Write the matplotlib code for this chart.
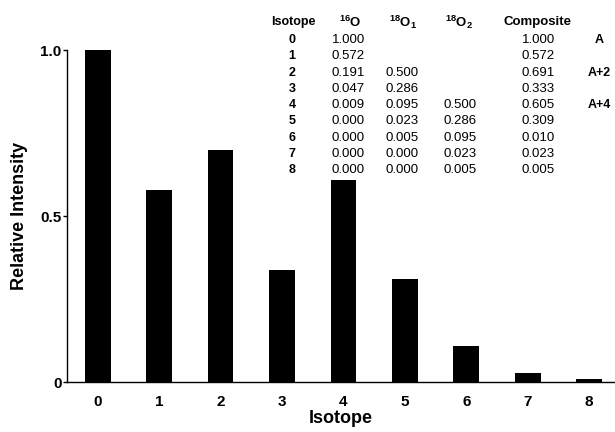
import matplotlib
matplotlib.use("Agg")
import matplotlib.pyplot as plt
import numpy as np

plt.rcParams["font.family"] = ["Liberation Sans", "DejaVu Sans"]
plt.rcParams["mathtext.fontset"] = "custom"
plt.rcParams["mathtext.rm"] = "Liberation Sans"
plt.rcParams["mathtext.default"] = "regular"

# bar data
isotopes = [0, 1, 2, 3, 4, 5, 6, 7, 8]
intensity = [1.0, 0.578, 0.698, 0.337, 0.608, 0.31, 0.108, 0.027, 0.008]

# inset table
tbl_isotope = ["0", "1", "2", "3", "4", "5", "6", "7", "8"]
tbl_o16 = ["1.000", "0.572", "0.191", "0.047", "0.009", "0.000", "0.000", "0.000", "0.000"]
tbl_o18_1 = ["", "", "0.500", "0.286", "0.095", "0.023", "0.005", "0.000", "0.000"]
tbl_o18_2 = ["", "", "", "", "0.500", "0.286", "0.095", "0.023", "0.005"]
tbl_comp = ["1.000", "0.572", "0.691", "0.333", "0.605", "0.309", "0.010", "0.023", "0.005"]
tbl_tag = ["A", "", "A+2", "", "A+4", "", "", "", ""]

W, H = 615, 432
fig = plt.figure(figsize=(W / 100, H / 100), dpi=100)
ax = fig.add_axes([67 / W, 1 - 382 / H, 1 - 67 / W, (382 - 50) / H])

ax.bar(isotopes, intensity, width=0.42, color="black")

ax.set_xlim(-0.5, 8.42)
ax.set_ylim(0, 1.0)
ax.set_xticks(isotopes)
ax.set_xticklabels([str(i) for i in isotopes], fontsize=11, fontweight="bold")
ax.set_yticks([0, 0.5, 1.0])
ax.set_yticklabels(["0", "0.5", "1.0"], fontsize=11, fontweight="bold")
ax.tick_params(axis="x", length=0, pad=9)
ax.tick_params(axis="y", length=3, width=1, pad=1)
ax.set_xlabel("Isotope", fontsize=13, fontweight="bold", labelpad=1)
ax.set_ylabel("Relative Intensity", fontsize=13, fontweight="bold", labelpad=9)
for side in ("top", "right"):
    ax.spines[side].set_visible(False)
for side in ("left", "bottom"):
    ax.spines[side].set_linewidth(1)


def px(x, y):
    return x / W, 1 - y / H


# table headers
hdr_y = 22
fig.text(*px(293, hdr_y), "Isotope", ha="center", va="center", fontsize=9, fontweight="bold")
fig.text(*px(350, hdr_y), r"$^{16}$O", ha="center", va="center", fontsize=9.5, fontweight="bold")
fig.text(*px(403, hdr_y), r"$^{18}$O$_1$", ha="center", va="center", fontsize=9.5, fontweight="bold")
fig.text(*px(459, hdr_y), r"$^{18}$O$_2$", ha="center", va="center", fontsize=9.5, fontweight="bold")
fig.text(*px(537, hdr_y), "Composite", ha="center", va="center", fontsize=9.5, fontweight="bold")

row0, dy = 40, 16.3
for i in range(len(tbl_isotope)):
    y = row0 + i * dy
    fig.text(*px(292, y), tbl_isotope[i], ha="center", va="center", fontsize=9, fontweight="bold")
    fig.text(*px(332, y), tbl_o16[i], ha="left", va="center", fontsize=9.5)
    fig.text(*px(385, y), tbl_o18_1[i], ha="left", va="center", fontsize=9.5)
    fig.text(*px(443, y), tbl_o18_2[i], ha="left", va="center", fontsize=9.5)
    fig.text(*px(522, y), tbl_comp[i], ha="left", va="center", fontsize=9.5)
    fig.text(*px(599, y), tbl_tag[i], ha="center", va="center", fontsize=9, fontweight="bold")

fig.savefig("out.png", dpi=100)
